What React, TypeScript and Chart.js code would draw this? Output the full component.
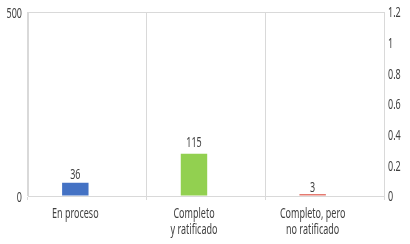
import React, { useEffect, useRef } from "react";
import { Chart, registerables } from "chart.js";

Chart.register(...registerables);

const categories: string[][] = [["En proceso"], ["Completo", "y ratificado"], ["Completo, pero", "no ratificado"]];
const values = [36, 115, 3];
const emptySeries = [null, null, null];
const barColors = ["#4472C4", "#92D050", "#E57A70"];
const leftTicks = [0, 500];
const rightTicks = ["0", "0.2", "0.4", "0.6", "0.8", "1", "1.2"];
const rightMax = 1.2;

const FONT = '"Noto Sans", "DejaVu Sans Condensed", sans-serif';
const FONT_SIZE = 15;
const SX = 0.6;
const TEXT = "#404040";
const GRID = "#d9d9d9";

function drawText(ctx: CanvasRenderingContext2D, t: string, x: number, y: number, align: CanvasTextAlign, base: CanvasTextBaseline) {
  ctx.save();
  ctx.translate(x, y);
  ctx.scale(SX, 1);
  ctx.textAlign = align;
  ctx.textBaseline = base;
  ctx.fillText(t, 0, 0);
  ctx.restore();
}

const textPlugin = {
  id: "textPlugin",
  afterDraw(chart: any) {
    const ctx: CanvasRenderingContext2D = chart.ctx;
    const meta = chart.getDatasetMeta(0);
    const y = chart.scales.y;
    const y1 = chart.scales.y1;
    const base = y.getPixelForValue(0);
    ctx.save();
    ctx.font = `${FONT_SIZE}px ${FONT}`;
    ctx.fillStyle = TEXT;
    meta.data.forEach((bar: any, i: number) => {
      const gap = 2 + (base - bar.y) * 0.12;
      drawText(ctx, String(values[i]), bar.x, bar.y - gap, "center", "alphabetic");
      categories[i].forEach((line, j) => {
        drawText(ctx, line, bar.x, 214 + j * 16, "center", "middle");
      });
    });
    leftTicks.forEach((v) => {
      drawText(ctx, String(v), y.left + y.width - 6, y.getPixelForValue(v) + 2, "right", "middle");
    });
    rightTicks.forEach((t) => {
      drawText(ctx, t, y1.left + 4, y1.getPixelForValue(parseFloat(t)) + 1, "left", "middle");
    });
    ctx.restore();
  },
};

export default function App() {
  const ref = useRef<HTMLCanvasElement>(null);
  useEffect(() => {
    document.body.style.margin = "0";
    const chart = new Chart(ref.current!, {
      type: "bar",
      data: {
        labels: categories.map((c) => c.join(" ")),
        datasets: [
          {
            data: values,
            backgroundColor: barColors,
            barPercentage: 1.1,
            categoryPercentage: 0.405,
            minBarLength: 2,
            yAxisID: "y",
          },
          {
            data: emptySeries,
            backgroundColor: "#A5A5A5",
            barPercentage: 1.1,
            categoryPercentage: 0.405,
            yAxisID: "y1",
          },
        ],
      },
      options: {
        animation: false,
        responsive: false,
        layout: { padding: { top: 12, left: 0, right: 0, bottom: 0 } },
        plugins: { legend: { display: false }, tooltip: { enabled: false } },
        scales: {
          x: {
            grid: { color: GRID, offset: true, tickLength: 4, drawTicks: true },
            border: { color: GRID },
            ticks: { display: false },
            afterFit(scale: any) {
              scale.height = 48;
            },
          },
          y: {
            position: "left",
            min: leftTicks[0],
            max: leftTicks[1],
            afterBuildTicks(scale: any) {
              scale.ticks = leftTicks.map((v) => ({ value: v }));
            },
            grid: { color: GRID, drawTicks: false },
            border: { color: GRID },
            ticks: { display: false },
            afterFit(scale: any) {
              scale.width = 28;
            },
          },
          y1: {
            position: "right",
            display: true,
            min: 0,
            max: rightMax,
            grid: { display: false, drawTicks: false },
            border: { color: GRID },
            ticks: { display: false },
            afterFit(scale: any) {
              scale.width = 26;
            },
          },
        },
      },
      plugins: [textPlugin],
    });
    return () => chart.destroy();
  }, []);
  return (
    <div style={{ width: 410, height: 244 }}>
      <canvas ref={ref} width={410} height={244} />
    </div>
  );
}
